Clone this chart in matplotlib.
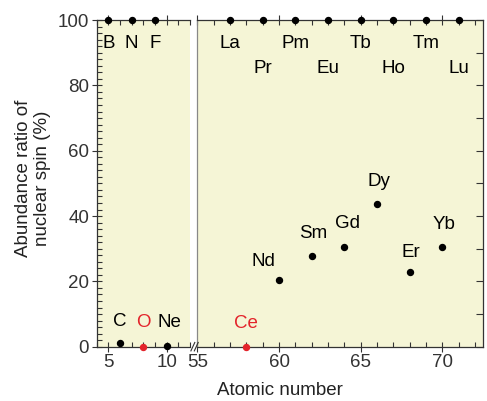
import numpy as np
import matplotlib.pyplot as plt
from matplotlib.ticker import MultipleLocator

# light elements (left panel)
light_sym = ['B', 'C', 'N', 'O', 'F', 'Ne']
light_z = [5, 6, 7, 8, 9, 10]
light_ab = [100, 1.2, 100, 0.04, 100, 0.27]

# lanthanides (right panel)
lan_sym = ['La', 'Ce', 'Pr', 'Nd', 'Pm', 'Sm', 'Eu', 'Gd', 'Tb', 'Dy',
           'Er', 'Ho', 'Tm', 'Yb', 'Lu']
lan_z = [57, 58, 59, 60, 61, 62, 63, 64, 65, 66, 68, 67, 69, 70, 71]
lan_ab = [100, 0.0, 100, 20.5, 100, 27.9, 100, 30.5, 100, 43.8,
          22.9, 100, 100, 30.5, 100]

red_sym = ['O', 'Ce']

# label offsets in points (dx, dy)
offsets = {'B': (0, -17), 'N': (0, -17), 'F': (0, -17),
           'La': (0, -17), 'Pm': (0, -17), 'Tb': (0, -17), 'Tm': (0, -17),
           'Pr': (0, -35), 'Eu': (0, -35), 'Ho': (0, -35), 'Lu': (0, -35),
           'C': (0, 15), 'O': (0, 17), 'Ne': (2, 17), 'Ce': (0, 17),
           'Nd': (-11, 13), 'Sm': (1, 16), 'Gd': (2, 17), 'Dy': (1, 16),
           'Er': (1, 14), 'Yb': (1, 16)}

bg = '#F5F5D6'
red = '#E3242B'
dark = '#333333'
fs = 13.5

plt.rcParams['font.family'] = ['Liberation Sans', 'DejaVu Sans']
plt.rcParams['axes.edgecolor'] = dark
plt.rcParams['xtick.color'] = dark
plt.rcParams['ytick.color'] = dark

fig = plt.figure(figsize=(4.87, 4.01), dpi=100)
ax1 = fig.add_axes([0.1986, 0.1354, 0.1916, 0.8146])
ax2 = fig.add_axes([0.4052, 0.1354, 0.5873, 0.8146])


def draw(ax, syms, zs, abs_):
    for s, z, a in zip(syms, zs, abs_):
        c = red if s in red_sym else 'black'
        ax.plot(z, a, 'o', color=c, markersize=4.3, clip_on=False, zorder=5)
        dx, dy = offsets[s]
        ax.annotate(s, (z, a), xytext=(dx, dy), textcoords='offset points',
                    ha='center', va='center', color=c, fontsize=fs)


for ax in (ax1, ax2):
    ax.set_facecolor(bg)
    ax.set_ylim(0, 100)
    ax.xaxis.set_minor_locator(MultipleLocator(1))
    ax.xaxis.set_major_locator(MultipleLocator(5))
    ax.tick_params(axis='x', which='major', direction='inout', length=7,
                   labelsize=fs, top=True, width=0.8, pad=2)
    ax.tick_params(axis='x', which='minor', direction='in', length=3.5,
                   top=True, width=0.8)
    for sp in ax.spines.values():
        sp.set_linewidth(0.9)

draw(ax1, light_sym, light_z, light_ab)
draw(ax2, lan_sym, lan_z, lan_ab)

ax1.set_xlim(4, 12)
ax1.set_xticks([5, 10])
ax1.spines['right'].set_visible(False)
ax1.yaxis.set_major_locator(MultipleLocator(20))
ax1.yaxis.set_minor_locator(MultipleLocator(2))
ax1.tick_params(axis='y', which='major', direction='inout', length=7,
                labelsize=fs, width=0.8, pad=2)
ax1.tick_params(axis='y', which='minor', direction='in', length=3.5,
                width=0.8)

ax2.set_xlim(55, 72.5)
ax2.set_xticks([55, 60, 65, 70])
ax2.spines['left'].set_color('#888888')
ax2.yaxis.set_major_locator(MultipleLocator(10))
ax2.yaxis.set_minor_locator(plt.NullLocator())
ax2.tick_params(axis='y', which='major', left=False, labelleft=False,
                right=True, direction='in', length=5, width=0.8)

# break marks
for xo in (0.0, 0.007):
    fig.add_artist(plt.Line2D([0.392 + xo, 0.400 + xo], [0.125, 0.146],
                              color=dark, lw=0.8))

fig.text(0.575, 0.027, 'Atomic number', ha='center', va='center',
         fontsize=fs, color='#222222')
fig.text(0.068, 0.556, 'Abundance ratio of\nnuclear spin (%)', ha='center',
         va='center', rotation=90, fontsize=fs, color='#222222',
         linespacing=1.1)

fig.savefig('out.png', dpi=100)
